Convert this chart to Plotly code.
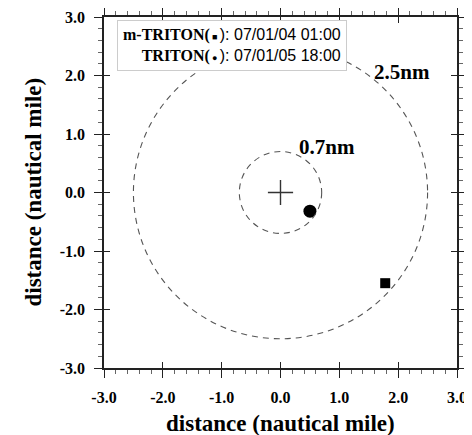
import plotly.graph_objects as go

# data
circle_radii = [2.5, 0.7]
circle_labels = ["2.5nm", "0.7nm"]
label_x = [2.07, 0.79]
label_y = [2.06, 0.78]
center_x = [0.0]
center_y = [0.0]
triton_x = [0.5]
triton_y = [-0.32]
mtriton_x = [1.78]
mtriton_y = [-1.55]
tick_vals = [-3, -2, -1, 0, 1, 2, 3]
tick_text = ["-3.0", "-2.0", "-1.0", "0.0", "1.0", "2.0", "3.0"]
legend_lines = [("m-TRITON(", "■", "): 07/01/04 01:00"),
                ("TRITON(", "●", "): 07/01/05 18:00")]
axis_title = "distance (nautical mile)"

serif = "Liberation Serif"
sans = "Liberation Sans"

fig = go.Figure()
fig.add_trace(go.Scatter(x=center_x, y=center_y, mode="markers",
                         marker=dict(symbol="cross-thin", size=18, line=dict(color="#333", width=1.4)),
                         showlegend=False))
fig.add_trace(go.Scatter(x=triton_x, y=triton_y, mode="markers",
                         marker=dict(symbol="circle", size=13, color="black"), showlegend=False))
fig.add_trace(go.Scatter(x=mtriton_x, y=mtriton_y, mode="markers",
                         marker=dict(symbol="square", size=10, color="black"), showlegend=False))
# invisible trace on overlay axes for crossing major ticks
fig.add_trace(go.Scatter(x=[0], y=[0], xaxis="x2", yaxis="y2", mode="markers",
                         marker=dict(opacity=0), showlegend=False, hoverinfo="skip"))

for r in circle_radii:
    fig.add_shape(type="circle", xref="x", yref="y", x0=-r, y0=-r, x1=r, y1=r,
                  line=dict(color="#555", width=1.1, dash="6px,5px"))

for t, lx, ly in zip(circle_labels, label_x, label_y):
    fig.add_annotation(x=lx, y=ly, text="<b>" + t + "</b>", showarrow=False,
                       font=dict(family=serif, size=21, color="black"))

leg_text = "<br>".join(
    f"<b>{a}</b><span style='font-size:9px'> {m} </span><span style='font-family:{sans}'>{b}</span>"
    for a, m, b in legend_lines)
fig.add_annotation(xref="paper", yref="paper", x=0.688, y=0.991, xanchor="right", yanchor="top",
                   text=leg_text, showarrow=False, align="right",
                   font=dict(family=serif, size=16, color="black"),
                   bordercolor="#cccccc", borderwidth=1, borderpad=5, bgcolor="white")

# axis titles
fig.add_annotation(xref="paper", yref="paper", x=0.5, y=-0.157, xanchor="center", yanchor="middle",
                   text="<b>" + axis_title + "</b>", showarrow=False,
                   font=dict(family=serif, size=23, color="black"))
fig.add_annotation(xref="paper", yref="paper", x=-0.201, y=0.5, xanchor="center", yanchor="middle",
                   text="<b>" + axis_title + "</b>", showarrow=False, textangle=-90,
                   font=dict(family=serif, size=23, color="black"))

bold_ticks = ["<b>" + t + "</b>" for t in tick_text]
axis_common = dict(range=[-3, 3], tickvals=tick_vals, ticktext=bold_ticks,
                   ticks="outside", ticklen=8, tickwidth=1.3, tickcolor="#222",
                   minor=dict(dtick=0.2, ticks="outside", ticklen=4, tickcolor="#666", tickwidth=1),
                   showline=True, linecolor="#222", linewidth=1.5, mirror="ticks",
                   showgrid=False, zeroline=False, automargin=False,
                   ticklabelstandoff=6,
                   tickfont=dict(family=serif, size=16, color="black"))
overlay_common = dict(range=[-3, 3], tickvals=tick_vals, ticks="inside", ticklen=6, tickwidth=1.3,
                      tickcolor="#222", showticklabels=False, showline=False, mirror="ticks",
                      showgrid=False, zeroline=False, automargin=False)

# page body has an 8px default margin, so the figure is shifted by 8px
fig.update_layout(
    width=464, height=427, margin=dict(l=96, r=15, t=9, b=67),
    plot_bgcolor="white", paper_bgcolor="white",
    xaxis=axis_common, yaxis=axis_common,
    xaxis2=dict(overlaying="x", **overlay_common),
    yaxis2=dict(overlaying="y", **overlay_common),
)

fig.write_html("out.html")
